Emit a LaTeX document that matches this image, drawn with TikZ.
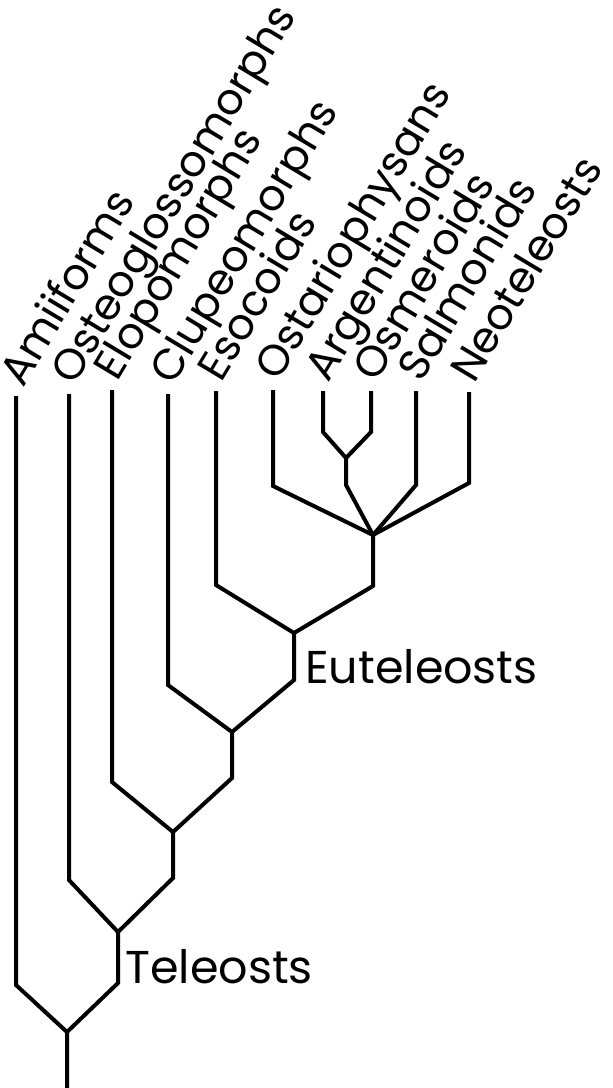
\documentclass[tikz,border=0pt]{standalone}
\usepackage{fontspec}
\setmainfont{Poppins}
\begin{document}
\begin{tikzpicture}[x=0.5pt,y=-0.5pt,
  branch/.style={line width=2pt, line join=miter, line cap=butt},
  taxon/.style={rotate=59, anchor=base west, inner sep=0pt, font=\fontsize{21.5}{25}\selectfont},
  clade/.style={anchor=base west, inner sep=0pt, font=\fontsize{23}{27}\selectfont}]
\useasboundingbox (0,0) rectangle (613,1088);

% leaf tips
\coordinate (amiT) at (16,396);
\coordinate (ostT) at (69,394);
\coordinate (eloT) at (112,390);
\coordinate (cluT) at (168,394);
\coordinate (esoT) at (216,391);
\coordinate (osrT) at (273,390);
\coordinate (argT) at (323,391);
\coordinate (osmT) at (371,391);
\coordinate (salT) at (416,391);
\coordinate (neoT) at (469,392);

% lower ends of the terminal branches
\coordinate (amiB) at (16,985);
\coordinate (ostB) at (69,880);
\coordinate (eloB) at (112,782);
\coordinate (cluB) at (168,685);
\coordinate (esoB) at (216,585);
\coordinate (osrB) at (273,486);
\coordinate (argB) at (323,432);
\coordinate (osmB) at (371,432);
\coordinate (salB) at (416,485);
\coordinate (neoB) at (469,483);

% internal nodes and the lower ends of their stems
\coordinate (ao)    at (346,458);
\coordinate (aoB)   at (346,485);
\coordinate (poly)  at (373,535);
\coordinate (polyB) at (373,586);
\coordinate (eut)   at (294,633);
\coordinate (eutB)  at (294,680);
\coordinate (cl)    at (232,732);
\coordinate (clB)   at (232,778);
\coordinate (el)    at (173,832);
\coordinate (elB)   at (173,878);
\coordinate (tel)   at (118,932);
\coordinate (telB)  at (118,983);
\coordinate (root)  at (67,1032);
\coordinate (base)  at (67,1088);

% branches
\draw[branch] (amiT) -- (amiB) -- (root) -- (base);
\draw[branch] (ostT) -- (ostB) -- (tel) -- (telB) -- (root);
\draw[branch] (eloT) -- (eloB) -- (el) -- (elB) -- (tel);
\draw[branch] (cluT) -- (cluB) -- (cl) -- (clB) -- (el);
\draw[branch] (esoT) -- (esoB) -- (eut) -- (eutB) -- (cl);
\draw[branch] (osrT) -- (osrB) -- (poly) -- (polyB) -- (eut);
\draw[branch] (argT) -- (argB) -- (ao) -- (aoB) -- (poly);
\draw[branch] (osmT) -- (osmB) -- (ao);
\draw[branch] (salT) -- (salB) -- (poly);
\draw[branch] (neoT) -- (neoB) -- (poly);

% taxon names
\node[taxon] (amiL) at (23,389) {Amiiforms};
\node[taxon] (ostL) at (74,387) {Osteoglossomorphs};
\node[taxon] (eloL) at (117,383) {Elopomorphs};
\node[taxon] (cluL) at (173,387) {Clupeomorphs};
\node[taxon] (esoL) at (221,384) {Esocoids};
\node[taxon] (osrL) at (278,383) {Ostariophysans};
\node[taxon] (argL) at (328,384) {Argentinoids};
\node[taxon] (osmL) at (376,384) {Osmeroids};
\node[taxon] (salL) at (421,384) {Salmonids};
\node[taxon] (neoL) at (474,385) {Neoteleosts};

% clade names
\node[clade] (telL) at (125,983) {Teleosts};
\node[clade] (eutL) at (305,683) {Euteleosts};
\end{tikzpicture}
\end{document}
